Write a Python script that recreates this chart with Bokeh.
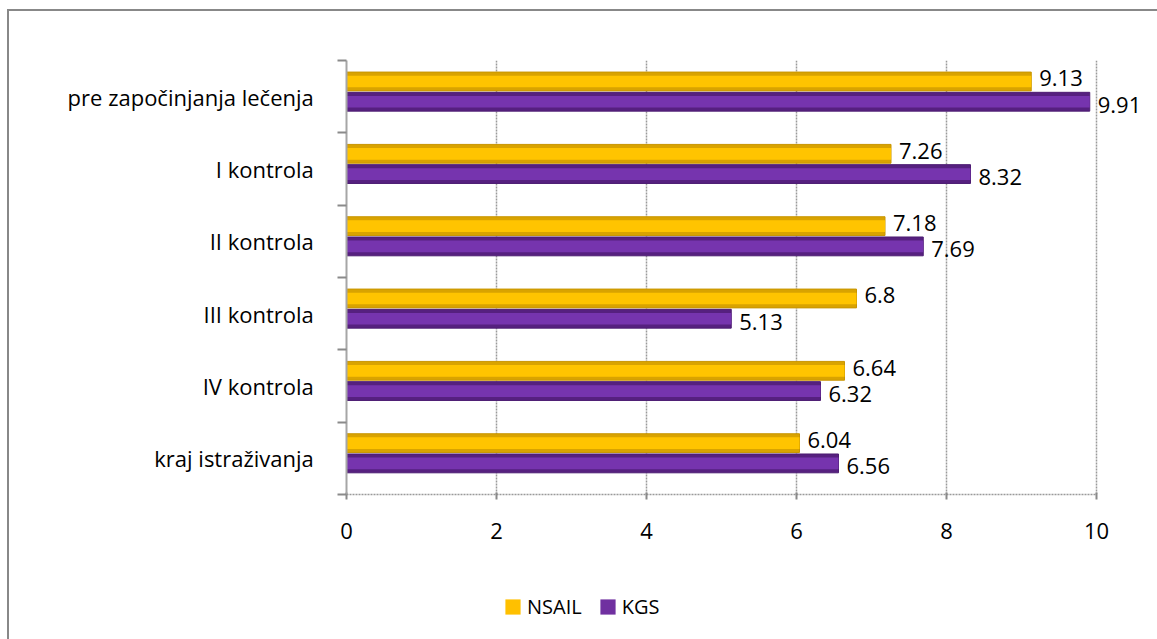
from bokeh.plotting import figure
from bokeh.layouts import column
from bokeh.models import Range1d, FixedTicker, Legend, LegendItem, ColumnDataSource
from bokeh.core.properties import value
from bokeh.embed import file_html
from bokeh.resources import INLINE
import numpy as np

categories = ["pre započinjanja lečenja", "I kontrola", "II kontrola",
              "III kontrola", "IV kontrola", "kraj istraživanja"]
nsail = [9.13, 7.26, 7.18, 6.8, 6.64, 6.04]
kgs = [9.91, 8.32, 7.69, 5.13, 6.32, 6.56]
series_names = ["NSAIL", "KGS"]
series_colors = ["#FFC000", "#7030A0"]
x_ticks = [0, 2, 4, 6, 8, 10]

FONT = "Open Sans"
n = len(categories)
idx = np.arange(n)
centers = idx + 0.5
bar_h = 0.26
y_n = centers - 0.21
y_k = centers + 0.07

src_n = ColumnDataSource(dict(y=y_n, v=nsail, lbl=[str(v) for v in nsail]))
src_k = ColumnDataSource(dict(y=y_k, v=kgs, lbl=[str(v) for v in kgs]))

W = 1148
H1, H2 = 560, 68
X_MAX = 10.8  # room for the value labels right of the 10 line
p = figure(width=W, height=H1, output_backend="svg", toolbar_location=None,
           x_range=Range1d(0, X_MAX), y_range=Range1d(n, 0),
           min_border_left=337, min_border_right=1,
           min_border_top=49, min_border_bottom=H1 - 483)
p.outline_line_color = None
p.background_fill_color = "white"
p.border_fill_color = "white"

# grid
p.ygrid.grid_line_color = None
p.xgrid.ticker = FixedTicker(ticks=x_ticks)
p.xgrid.grid_line_color = "#9a9a9a"
p.xgrid.grid_line_width = 1.5
p.xgrid.grid_line_dash = "2 1"

# bars (base + highlight for a cylinder look)
p.hbar(y="y", right="v", left=0, height=bar_h, source=src_n,
       fill_color="#D9A300", line_color="#C89500", line_width=1)
p.hbar(y="y", right="v", left=0, height=bar_h * 0.62, source=src_n,
       fill_color="#FFC400", line_color=None)
p.hbar(y="y", right="v", left=0, height=bar_h, source=src_k,
       fill_color="#56207F", line_color="#4C1C72", line_width=1)
p.hbar(y="y", right="v", left=0, height=bar_h * 0.62, source=src_k,
       fill_color="#7634AE", line_color=None)

# value labels
for src, yoff in ((src_n, -3), (src_k, 3)):
    p.text(x="v", y="y", text="lbl", source=src, x_offset=8, y_offset=yoff,
           text_baseline="middle", text_align="left",
           text_font=value(FONT), text_font_size="22px", text_color="black")

# x axis
xa = p.xaxis[0]
xa.ticker = FixedTicker(ticks=x_ticks)
xa.bounds = (0, 10)
xa.axis_line_color = "#9a9a9a"
xa.axis_line_width = 1.5
xa.axis_line_dash = "2 1"
xa.major_tick_line_color = "#8a8a8a"
xa.major_tick_line_width = 2
xa.major_tick_out = 5
xa.major_tick_in = 2
xa.minor_tick_line_color = None
xa.major_label_standoff = 23
xa.major_label_text_font = FONT
xa.major_label_text_font_size = "22px"
xa.major_label_text_color = "black"

# y axis: labels at category centres, ticks at category boundaries
ya = p.yaxis[0]
ya.ticker = FixedTicker(ticks=list(centers), minor_ticks=list(range(n + 1)))
ya.major_label_overrides = {float(c): categories[i] + " " for i, c in enumerate(centers)}
ya.axis_line_color = "#a6a6a6"
ya.axis_line_width = 2
ya.major_tick_line_color = None
ya.major_tick_out = 0
ya.major_tick_in = 0
ya.minor_tick_line_color = "#8a8a8a"
ya.minor_tick_line_width = 2
ya.minor_tick_out = 9
ya.minor_tick_in = 0
ya.major_label_standoff = 18
ya.major_label_text_font = FONT
ya.major_label_text_font_size = "22px"
ya.major_label_text_color = "black"

# legend strip: same series drawn through p2's scales, outside its visible range
p2 = figure(width=W, height=H2, output_backend="svg", toolbar_location=None,
            x_axis_type=None, y_axis_type=None, min_border=0,
            x_range=Range1d(0, 10), y_range=Range1d(100, 101))
p2.outline_line_color = None
p2.grid.grid_line_color = None
items = []
for name, col, src in zip(series_names, series_colors, (src_n, src_k)):
    r = p2.hbar(y="y", right="v", left=0, height=bar_h, source=src,
                fill_color=col, line_color=None)
    items.append(LegendItem(label=name, renderers=[r]))
legend = Legend(items=items, orientation="horizontal", location=(157, 19),
                border_line_color=None, background_fill_alpha=0,
                label_text_font=FONT, label_text_font_size="20px",
                label_text_color="black",
                glyph_width=19, glyph_height=19, label_standoff=5,
                spacing=16, padding=5, margin=0)
p2.add_layout(legend)

layout = column(p, p2, spacing=0,
                styles={"border-left": "2px solid #888888",
                        "border-top": "2px solid #888888",
                        "margin-left": "7px", "margin-top": "9px"})

open("out.html", "w").write(file_html(layout, INLINE))
